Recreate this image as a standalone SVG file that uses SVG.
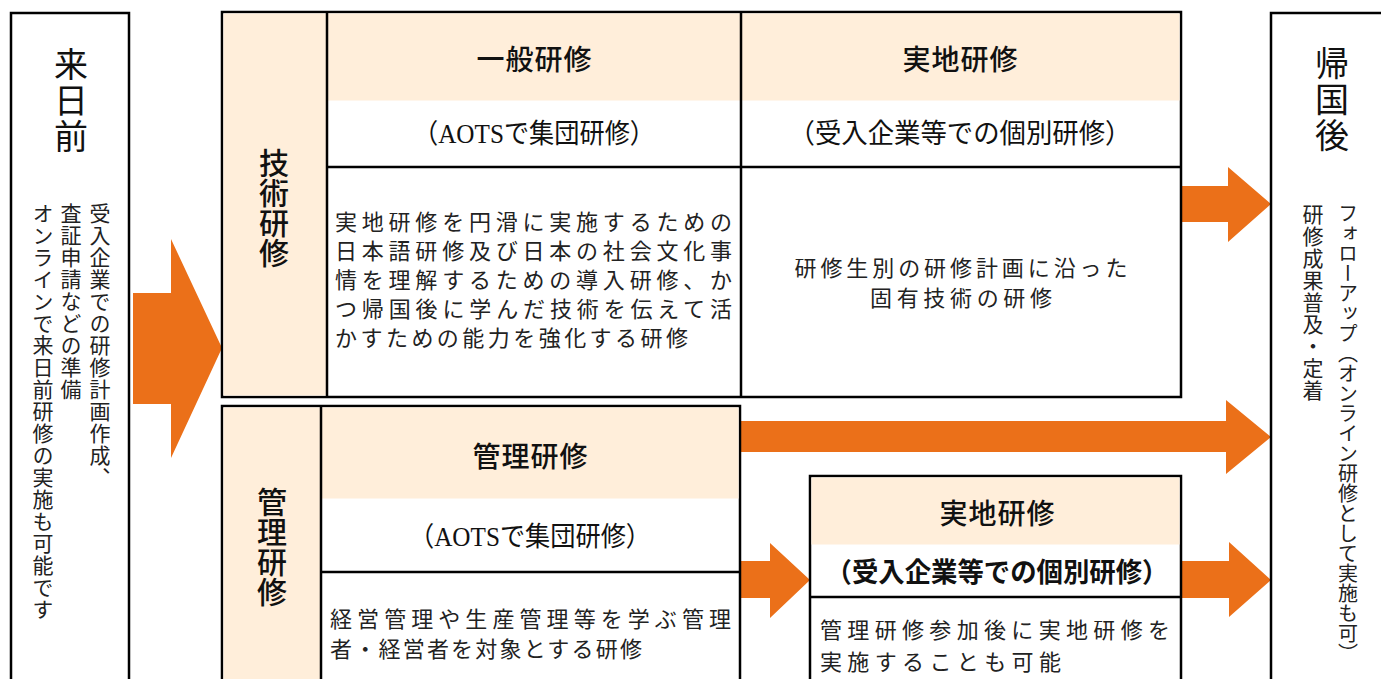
<svg xmlns="http://www.w3.org/2000/svg" width="1381" height="679" viewBox="0 0 1381 679">
<style>
.box{fill:#fff;stroke:#000;stroke-width:2.5}
.peach{fill:#FFEEDA}
.ln{stroke:#000;stroke-width:2.5;fill:none}
.arr{fill:#EB7019}
text{font-family:"Noto Sans CJK JP","Liberation Sans",sans-serif;fill:#111}
.vt{writing-mode:vertical-rl}
.big{font-size:34px;letter-spacing:2px}
.side{font-size:30px;font-weight:500}
.hd{font-size:28px;font-weight:500;text-anchor:middle;dominant-baseline:central}
.sub{font-family:"Liberation Serif","Noto Sans CJK JP",serif;font-size:27px;text-anchor:middle;dominant-baseline:central}
.body{font-size:22px;fill:#222;dominant-baseline:central}
.vbody{font-size:21px;fill:#222;letter-spacing:1px}
</style>

<g id="connectors">
  <polygon class="arr" points="133,293 171,293 171,239 222,348 171,458 171,404 133,404"/>
  <polygon class="arr" points="1181,186 1228,186 1228,167 1271,204 1228,242 1228,222 1181,222"/>
  <polygon class="arr" points="740,421 1226,421 1226,400 1271,437 1226,474 1226,452 740,452"/>
  <polygon class="arr" points="740,561 770,561 770,543 810,580 770,618 770,598 740,598"/>
  <polygon class="arr" points="1181,561 1229,561 1229,542 1271,580 1229,617 1229,598 1181,598"/>
</g>

<g id="before">
  <rect class="box" x="11" y="13" width="118" height="680"/>
  <text class="vt big" x="71" y="47">来日前</text>
  <text class="vt vbody" x="100" y="203">受入企業での研修計画作成、</text>
  <text class="vt vbody" x="71" y="203">査証申請などの準備</text>
  <text class="vt vbody" x="43" y="203">オンラインで来日前研修の実施も可能です</text>
</g>

<g id="tech">
  <rect class="box" x="222" y="12" width="959" height="385"/>
  <rect class="peach" x="223.5" y="13.5" width="103" height="382"/>
  <rect class="peach" x="327" y="13.5" width="852.5" height="87"/>
  <line class="ln" x1="327" y1="12" x2="327" y2="397"/>
  <line class="ln" x1="741" y1="12" x2="741" y2="397"/>
  <line class="ln" x1="327" y1="167" x2="1181" y2="167"/>
  <text class="vt side" x="274" y="148">技術研修</text>
  <text class="hd" x="534" y="58" textLength="115">一般研修</text>
  <text class="sub" x="534" y="134" textLength="242" lengthAdjust="spacingAndGlyphs">（AOTSで集団研修）</text>
  <text class="hd" x="960" y="58" textLength="115">実地研修</text>
  <text class="sub" x="960" y="134" textLength="343" lengthAdjust="spacingAndGlyphs">（受入企業等での個別研修）</text>
  <text class="body" x="335" y="220" textLength="397">実地研修を円滑に実施するための</text>
  <text class="body" x="335" y="249" textLength="397">日本語研修及び日本の社会文化事</text>
  <text class="body" x="335" y="278" textLength="397">情を理解するための導入研修、か</text>
  <text class="body" x="335" y="307" textLength="397">つ帰国後に学んだ技術を伝えて活</text>
  <text class="body" x="335" y="336" textLength="353">かすための能力を強化する研修</text>
  <text class="body" x="961" y="266" text-anchor="middle" textLength="333">研修生別の研修計画に沿った</text>
  <text class="body" x="961" y="296" text-anchor="middle" textLength="182">固有技術の研修</text>
</g>

<g id="mgmt">
  <rect class="box" x="222" y="406" width="518" height="290"/>
  <rect class="peach" x="223.5" y="407.5" width="97" height="272"/>
  <rect class="peach" x="321" y="407.5" width="417.5" height="91"/>
  <line class="ln" x1="321" y1="406" x2="321" y2="679"/>
  <line class="ln" x1="321" y1="572" x2="740" y2="572"/>
  <text class="vt side" x="272" y="487">管理研修</text>
  <text class="hd" x="530" y="455" textLength="115">管理研修</text>
  <text class="sub" x="530" y="537" textLength="242" lengthAdjust="spacingAndGlyphs">（AOTSで集団研修）</text>
  <text class="body" x="330" y="617" textLength="401">経営管理や生産管理等を学ぶ管理</text>
  <text class="body" x="330" y="647" textLength="312">者・経営者を対象とする研修</text>
</g>

<g id="onsite2">
  <rect class="box" x="810" y="476" width="371" height="220"/>
  <rect class="peach" x="811.5" y="477.5" width="368" height="67"/>
  <line class="ln" x1="810" y1="597" x2="1181" y2="597"/>
  <text class="hd" x="997" y="512" textLength="115">実地研修</text>
  <text class="sub" x="997" y="573" style="font-weight:bold" textLength="343" lengthAdjust="spacingAndGlyphs">（受入企業等での個別研修）</text>
  <text class="body" x="820" y="628" textLength="350">管理研修参加後に実地研修を</text>
  <text class="body" x="820" y="660" textLength="241">実施することも可能</text>
</g>

<g id="after">
  <rect class="box" x="1271" y="13" width="130" height="680"/>
  <text class="vt big" x="1332" y="46">帰国後</text>
  <text class="vt vbody" x="1348" y="203" style="letter-spacing:0px;font-size:20px">フォローアップ（オンライン研修として実施も可）</text>
  <text class="vt vbody" x="1313" y="204">研修成果普及・定着</text>
</g>
</svg>
